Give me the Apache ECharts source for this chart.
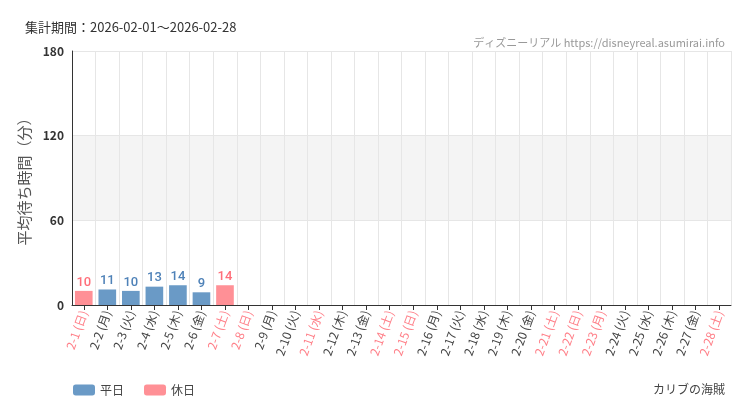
<!DOCTYPE html>
<html><head><meta charset="utf-8">
<script src="https://cdn.jsdelivr.net/npm/echarts@6/dist/echarts.min.js"></script>
<style>html,body{margin:0;background:#fff}#c{width:750px;height:410px}</style>
</head><body><div id="c"></div>
<script>
// 日付と曜日
var days = ['2-1 (日)','2-2 (月)','2-3 (火)','2-4 (水)','2-5 (木)','2-6 (金)','2-7 (土)','2-8 (日)','2-9 (月)','2-10 (火)','2-11 (水)','2-12 (木)','2-13 (金)','2-14 (土)','2-15 (日)','2-16 (月)','2-17 (火)','2-18 (水)','2-19 (木)','2-20 (金)','2-21 (土)','2-22 (日)','2-23 (月)','2-24 (火)','2-25 (水)','2-26 (木)','2-27 (金)','2-28 (土)'];
var holidays = ['2-1 (日)','2-7 (土)','2-8 (日)','2-11 (水)','2-14 (土)','2-15 (日)','2-21 (土)','2-22 (日)','2-23 (月)','2-28 (土)'];
var waits = [10, 11, 10, 13, 14, 9, 14];
var yTicks = [0, 60, 120, 180];

var weekday = days.map(function (d, i) {
  return (i < waits.length && holidays.indexOf(d) < 0) ? waits[i] : null;
});
var holiday = days.map(function (d, i) {
  return (i < waits.length && holidays.indexOf(d) >= 0) ? waits[i] : null;
});

var chart = echarts.init(document.getElementById('c'));
var lbl = function (c) {
  return { show: true, position: 'top', color: c, fontSize: 13, fontFamily: 'Roboto', fontWeight: 500, distance: 2 };
};
chart.setOption({
  animation: false,
  textStyle: { fontFamily: 'Noto Sans CJK JP' },
  title: [
    { text: '集計期間：2026-02-01～2026-02-28', left: 20, top: 16, textStyle: { fontSize: 13, fontWeight: 'normal', color: '#333' } },
    { text: 'ディズニーリアル https://disneyreal.asumirai.info', right: 20, top: 32, textStyle: { fontSize: 11, fontWeight: 'normal', color: '#999' } },
    { text: 'カリブの海賊', right: 20, top: 378, textStyle: { fontSize: 12, fontWeight: 'normal', color: '#444' } }
  ],
  legend: {
    left: 68, top: 379, itemWidth: 22, itemHeight: 11, itemGap: 20,
    textStyle: { fontSize: 12, color: '#444' },
    data: ['平日', '休日']
  },
  grid: { left: 72, right: 19, top: 51, bottom: 105 },
  xAxis: {
    type: 'category', data: days,
    axisLine: { lineStyle: { color: '#333' } },
    axisTick: { show: true, alignWithLabel: true, lineStyle: { color: '#333' } },
    splitLine: { show: true, interval: 0, lineStyle: { color: '#e6e6e6' } },
    axisLabel: {
      interval: 0, rotate: 70, fontSize: 12, margin: 6,
      color: function (v) { return holidays.indexOf(v) >= 0 ? '#ff7f88' : '#444'; }
    }
  },
  yAxis: {
    type: 'value', min: yTicks[0], max: yTicks[yTicks.length - 1], interval: 60,
    name: '平均待ち時間（分）', nameLocation: 'middle', nameGap: 40,
    nameTextStyle: { fontSize: 15, color: '#555' },
    axisLine: { show: true, lineStyle: { color: '#333' } },
    axisLabel: { fontSize: 12, color: '#333', fontWeight: 'bold' },
    splitLine: { lineStyle: { color: '#e6e6e6' } },
    splitArea: { show: true, areaStyle: { color: ['rgba(0,0,0,0)', '#f4f4f4', 'rgba(0,0,0,0)'] } }
  },
  series: [
    { name: '平日', type: 'bar', stack: 'w', data: weekday, barWidth: '75%', itemStyle: { color: '#6a9ac6' }, label: lbl('#4f82b8') },
    { name: '休日', type: 'bar', stack: 'w', data: holiday, barWidth: '75%', itemStyle: { color: '#ff9096' }, label: lbl('#ff6f7a') }
  ]
});
</script></body></html>
